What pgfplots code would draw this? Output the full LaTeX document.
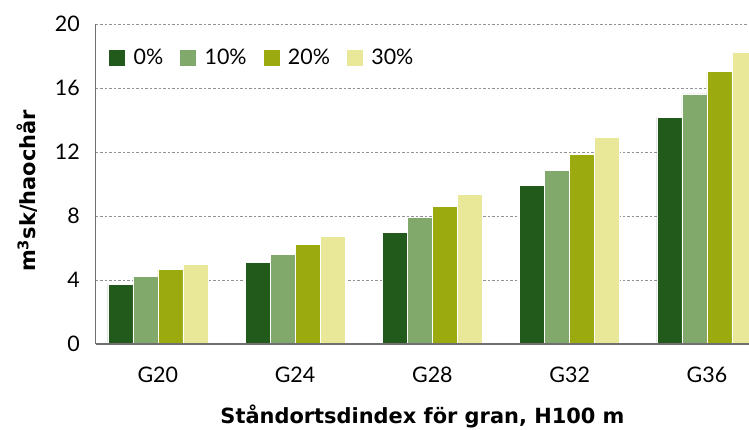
\documentclass[border=0pt]{standalone}
\usepackage{fontspec}
\setmainfont{Lato}
\newfontfamily\labelfont{DejaVu Sans}
\usepackage{pgfplots}
\pgfplotsset{compat=1.18}
\definecolor{cA}{HTML}{225A1C}
\definecolor{cB}{HTML}{82A96C}
\definecolor{cC}{HTML}{9BAA0E}
\definecolor{cD}{HTML}{E9E898}
\definecolor{axgray}{HTML}{707070}
\begin{document}
\begin{tikzpicture}
\path[use as bounding box] (-96bp,-86bp) rectangle (653bp,344bp);
\clip (-96bp,-86bp) rectangle (653bp,344bp);
\begin{axis}[
  scale only axis,
  width=653bp, height=320bp,
  xmin=-0.45, xmax=4.306,
  ymin=0, ymax=20,
  ytick={0,4,...,20},
  xtick={0,1,2,3,4},
  xticklabels={G20,G24,G28,G32,G36},
  major tick length=0pt,
  axis x line*=bottom,
  axis y line*=left,
  x axis line style={draw=none},
  y axis line style={axgray, line width=1bp, -},
  ymajorgrids,
  grid style={gray!85, line width=0.8bp, dash pattern=on 2.5bp off 2bp},
  /pgf/number format/assume math mode=true,
  tick label style={font=\fontsize{21.5}{25}\selectfont, text=black},
  yticklabel style={anchor=east, inner sep=0pt, xshift=-16bp},
  xticklabel style={anchor=center, inner sep=0pt, yshift=-30.5bp},
  xlabel={Ståndortsdindex för gran, H100 m},
  ylabel={m\textsuperscript{3}sk/haochår},
  label style={font=\labelfont\bfseries\fontsize{21}{25}\selectfont},
  xlabel style={at={(axis description cs:0.5,0)}, anchor=base, yshift=-79bp},
  ylabel style={at={(axis description cs:-0.0919,0.478)}, anchor=base},
  ybar=0pt,
  bar width=25bp,
  legend style={at={(axis description cs:0.0184,0.894)}, anchor=west, draw=none, fill=none,
    inner sep=0pt, font=\fontsize{21.5}{25}\selectfont, legend columns=4,
    /tikz/every odd column/.append style={column sep=6bp},
    /tikz/every even column/.append style={column sep=14bp}},
  legend cell align=left,
  legend image code/.code={\fill[#1] (0bp,-8.5bp) rectangle (17bp,8.5bp);},
]
\addplot[fill=cA, draw=white, line width=0.4bp, bar shift=-37.5bp] coordinates {(0,3.75) (1,5.12) (2,7.0) (3,9.9) (4,14.15)};
\addplot[fill=cB, draw=white, line width=0.4bp, bar shift=-12.5bp] coordinates {(0,4.25) (1,5.62) (2,7.9) (3,10.87) (4,15.64)};
\addplot[fill=cC, draw=white, line width=0.4bp, bar shift=12.5bp] coordinates {(0,4.65) (1,6.25) (2,8.62) (3,11.87) (4,17.02)};
\addplot[fill=cD, draw=white, line width=0.4bp, bar shift=37.5bp] coordinates {(0,5.0) (1,6.75) (2,9.37) (3,12.9) (4,18.25)};
\legend{0\%,10\%,20\%,30\%}
\draw[axgray, line width=1.8bp] (rel axis cs:0,0) -- (rel axis cs:1,0);
\end{axis}
\end{tikzpicture}
\end{document}
